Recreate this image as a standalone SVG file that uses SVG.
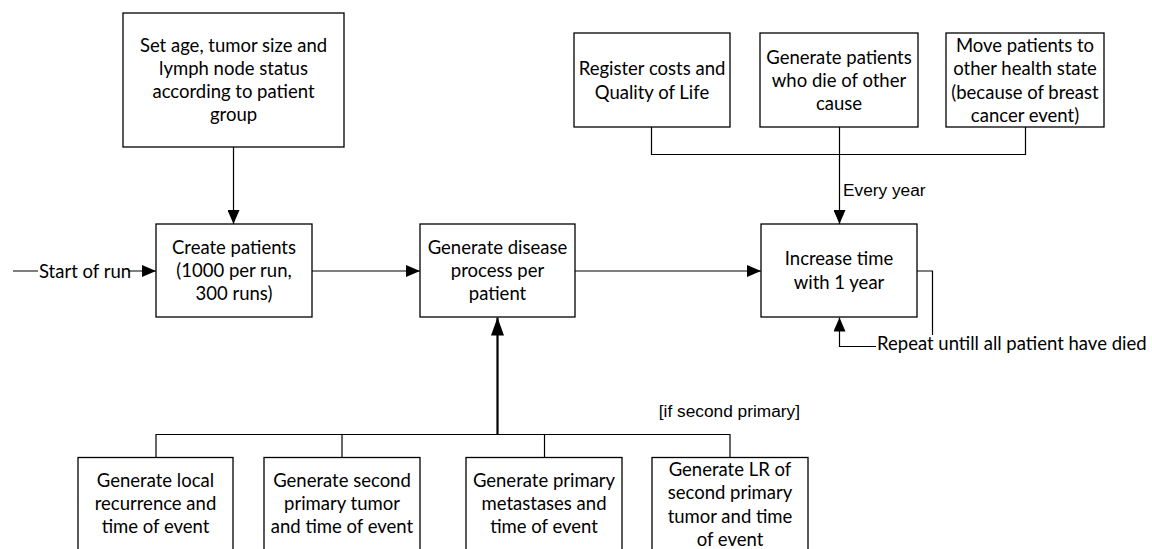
<svg xmlns="http://www.w3.org/2000/svg" width="1152" height="549" viewBox="0 0 1152 549">
<style>
.box{fill:#fff;stroke:#000;stroke-width:1.3}
.t{font-family:Lato,"Liberation Sans",sans-serif;font-size:18.5px;fill:#000;text-anchor:middle}
.l{font-family:Lato,"Liberation Sans",sans-serif;font-size:18.5px;fill:#000}
.a{font-family:"Liberation Sans",Arial,sans-serif;font-size:17.3px;fill:#000}
.c{fill:none;stroke:#000;stroke-width:1.2}
.ct{fill:none;stroke:#000;stroke-width:2.2}
</style>
<defs>
<marker id="ah" markerUnits="userSpaceOnUse" markerWidth="14" markerHeight="12" viewBox="0 0 14 12" refX="14" refY="6" orient="auto">
<path d="M0,0 L14,6 L0,12 z" fill="#000"/>
</marker>
<marker id="ahb" markerUnits="userSpaceOnUse" markerWidth="18" markerHeight="13" viewBox="0 0 18 13" refX="18" refY="6.5" orient="auto">
<path d="M0,0 L18,6.5 L0,13 z" fill="#000"/>
</marker>
</defs>
<rect width="1152" height="549" fill="#fff"/>
<g id="connectors">
<path class="c" d="M233.5,147 V224" marker-end="url(#ah)"/>
<path class="c" d="M13,271 H156" marker-end="url(#ah)"/>
<rect x="38" y="259" width="90" height="24" fill="#fff"/>
<text class="l" x="39" y="277.5">Start of run</text>
<path class="c" d="M312,271 H420" marker-end="url(#ah)"/>
<path class="c" d="M575,271 H761" marker-end="url(#ah)"/>
<path class="c" d="M651.5,127 V154.5 H1025.5 V127"/>
<path class="c" d="M839.5,127 V224" marker-end="url(#ah)"/>
<text class="a" x="843" y="196">Every year</text>
<path class="c" d="M917,271 H932.5 V346.5 H839.5 V317.5" marker-end="url(#ah)"/>
<rect x="876" y="335" width="272" height="22" fill="#fff"/>
<text class="l" x="877" y="350">Repeat untill all patient have died</text>
<path class="ct" d="M497.5,434.5 V317.5" marker-end="url(#ahb)"/>
<path class="c" d="M156,457.5 V434.5 H730 V457.5"/>
<path class="c" d="M342,434.5 V457.5"/>
<path class="c" d="M544.5,434.5 V457.5"/>
<text class="a" x="800" y="417" text-anchor="end">[if second primary]</text>
</g>
<g id="set-age">
<rect class="box" x="123" y="13" width="221" height="134"/>
<text class="t" x="233.5" y="51.5">Set age, tumor size and</text>
<text class="t" x="233.5" y="74.8">lymph node status</text>
<text class="t" x="233.5" y="98.1">according to patient</text>
<text class="t" x="233.5" y="121.4">group</text>
</g>
<g id="register">
<rect class="box" x="574" y="33" width="156" height="94"/>
<text class="t" x="652" y="75.2">Register costs and</text>
<text class="t" x="652" y="98.5">Quality of Life</text>
</g>
<g id="die-other">
<rect class="box" x="760" y="33" width="158" height="94"/>
<text class="t" x="839" y="63.5">Generate patients</text>
<text class="t" x="839" y="86.8">who die of other</text>
<text class="t" x="839" y="110.1">cause</text>
</g>
<g id="move-patients">
<rect class="box" x="946" y="33" width="158" height="94"/>
<text class="t" x="1025" y="51.9">Move patients to</text>
<text class="t" x="1025" y="75.2">other health state</text>
<text class="t" x="1025" y="98.5">(because of breast</text>
<text class="t" x="1025" y="121.8">cancer event)</text>
</g>
<g id="create-patients">
<rect class="box" x="156" y="224" width="156" height="93"/>
<text class="t" x="234" y="253.7">Create patients</text>
<text class="t" x="234" y="277">(1000 per run,</text>
<text class="t" x="234" y="300.3">300 runs)</text>
</g>
<g id="disease-process">
<rect class="box" x="420" y="224" width="155" height="93"/>
<text class="t" x="497.5" y="253.7">Generate disease</text>
<text class="t" x="497.5" y="277">process per</text>
<text class="t" x="497.5" y="300.3">patient</text>
</g>
<g id="increase-time">
<rect class="box" x="761" y="224" width="156" height="93"/>
<text class="t" x="839" y="265.4">Increase time</text>
<text class="t" x="839" y="288.7">with 1 year</text>
</g>
<g id="local-recurrence">
<rect class="box" x="78" y="457.5" width="155" height="100"/>
<text class="t" x="155.5" y="486.5">Generate local</text>
<text class="t" x="155.5" y="509.8">recurrence and</text>
<text class="t" x="155.5" y="533.2">time of event</text>
</g>
<g id="second-primary">
<rect class="box" x="264" y="457.5" width="156" height="100"/>
<text class="t" x="342" y="486.5">Generate second</text>
<text class="t" x="342" y="509.8">primary tumor</text>
<text class="t" x="342" y="533.2">and time of event</text>
</g>
<g id="metastases">
<rect class="box" x="466" y="457.5" width="156" height="100"/>
<text class="t" x="544" y="486.5">Generate primary</text>
<text class="t" x="544" y="509.8">metastases and</text>
<text class="t" x="544" y="533.2">time of event</text>
</g>
<g id="lr-second">
<rect class="box" x="652" y="457.5" width="156" height="100"/>
<text class="t" x="730" y="475.8">Generate LR of</text>
<text class="t" x="730" y="499.2">second primary</text>
<text class="t" x="730" y="522.5">tumor and time</text>
<text class="t" x="730" y="545.8">of event</text>
</g>
</svg>
